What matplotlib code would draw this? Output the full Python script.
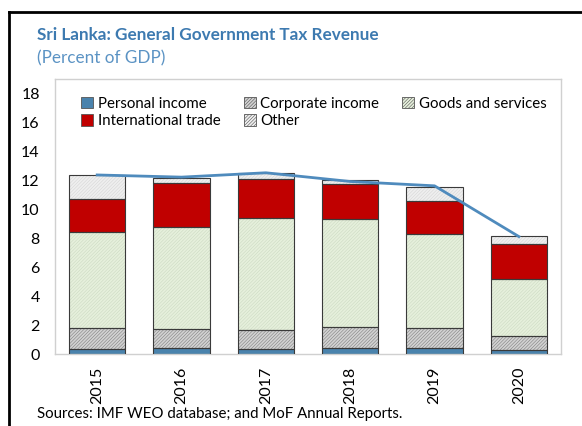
import numpy as np
import matplotlib.pyplot as plt
from matplotlib.patches import Patch
from matplotlib.lines import Line2D

years = ['2015', '2016', '2017', '2018', '2019', '2020']
personal = [0.34, 0.40, 0.34, 0.40, 0.40, 0.28]
corporate = [1.46, 1.32, 1.31, 1.46, 1.40, 0.96]
goods = [6.60, 7.03, 7.73, 7.44, 6.50, 3.93]
intl_trade = [2.30, 3.05, 2.72, 2.40, 2.25, 2.43]
other = [1.65, 0.35, 0.40, 0.30, 0.95, 0.54]
total = [12.35, 12.2, 12.5, 11.9, 11.6, 8.1]

plt.rcParams['font.family'] = ['Lato', 'DejaVu Sans']
plt.rcParams['hatch.linewidth'] = 0.4

fig = plt.figure(figsize=(5.82, 4.26), dpi=100)
ax = fig.add_axes([0.0945, 0.169, 0.8695, 0.6456])

x = np.arange(len(years))
w = 0.67
edge = '#3a3a3a'

series = [
    ('Personal income', personal, '#4a83ad', None, '#4a83ad'),
    ('Corporate income', corporate, '#d2d2d2', '//////////', '#808080'),
    ('Goods and services', goods, '#e6f0dc', '//////////', '#ccd9c2'),
    ('International trade', intl_trade, '#c00000', None, '#c00000'),
    ('Other', other, '#efefef', '//////////', '#d6d6d6'),
]

bottom = np.zeros(len(years))
handles = {}
for name, vals, fc, hatch, hc in series:
    vals = np.array(vals)
    ax.bar(x, vals, w, bottom=bottom, color=fc, hatch=hatch,
           edgecolor=hc, linewidth=0, zorder=2)
    # outline drawn separately so the hatch keeps its own colour
    ax.bar(x, vals, w, bottom=bottom, fill=False, edgecolor=edge,
           linewidth=0.8, zorder=3)
    bottom += vals
    handles[name] = Patch(facecolor=fc, hatch=hatch, edgecolor='#555555',
                          linewidth=0.6)

ax.plot(x, total, color='#4f8bbd', linewidth=2, zorder=4)

ax.set_xlim(-0.5, len(years) - 0.5)
ax.set_ylim(0, 18.97)
ax.set_yticks(np.arange(0, 19, 2))
ax.set_xticks(x)
ax.set_xticklabels(years, rotation=90, fontsize=11.5)
ax.tick_params(axis='y', length=0, labelsize=11.5, pad=11)
ax.tick_params(axis='x', length=0, pad=9)
for s in ax.spines.values():
    s.set_color('#d0d0d0')
    s.set_linewidth(1)

order = ['Personal income', 'International trade', 'Corporate income',
         'Other', 'Goods and services']
ax.legend([handles[k] for k in order], order, ncol=3, frameon=False,
          loc='upper left', bbox_to_anchor=(0.025, 0.985), fontsize=10.8,
          handlelength=0.8, handleheight=0.8, handletextpad=0.3,
          columnspacing=1.55, labelspacing=0.25, borderaxespad=0.5)

fig.text(0.064, 0.917, 'Sri Lanka: General Government Tax Revenue',
         fontsize=12.3, fontweight='bold', color='#3d7ab0', va='center')
fig.text(0.064, 0.862, '(Percent of GDP)', fontsize=12.3, color='#5b93c4',
         va='center')
fig.text(0.064, 0.028, 'Sources: IMF WEO database; and MoF Annual Reports.',
         fontsize=10.8, color='black', va='center')

# partial black frame around the figure panel
fig.add_artist(Line2D([0.016, 1.0], [0.972, 0.972], color='black',
                      linewidth=2, transform=fig.transFigure))
fig.add_artist(Line2D([0.016, 0.016], [0.0, 0.972], color='black',
                      linewidth=2, transform=fig.transFigure))

fig.savefig('out.png', dpi=100)
